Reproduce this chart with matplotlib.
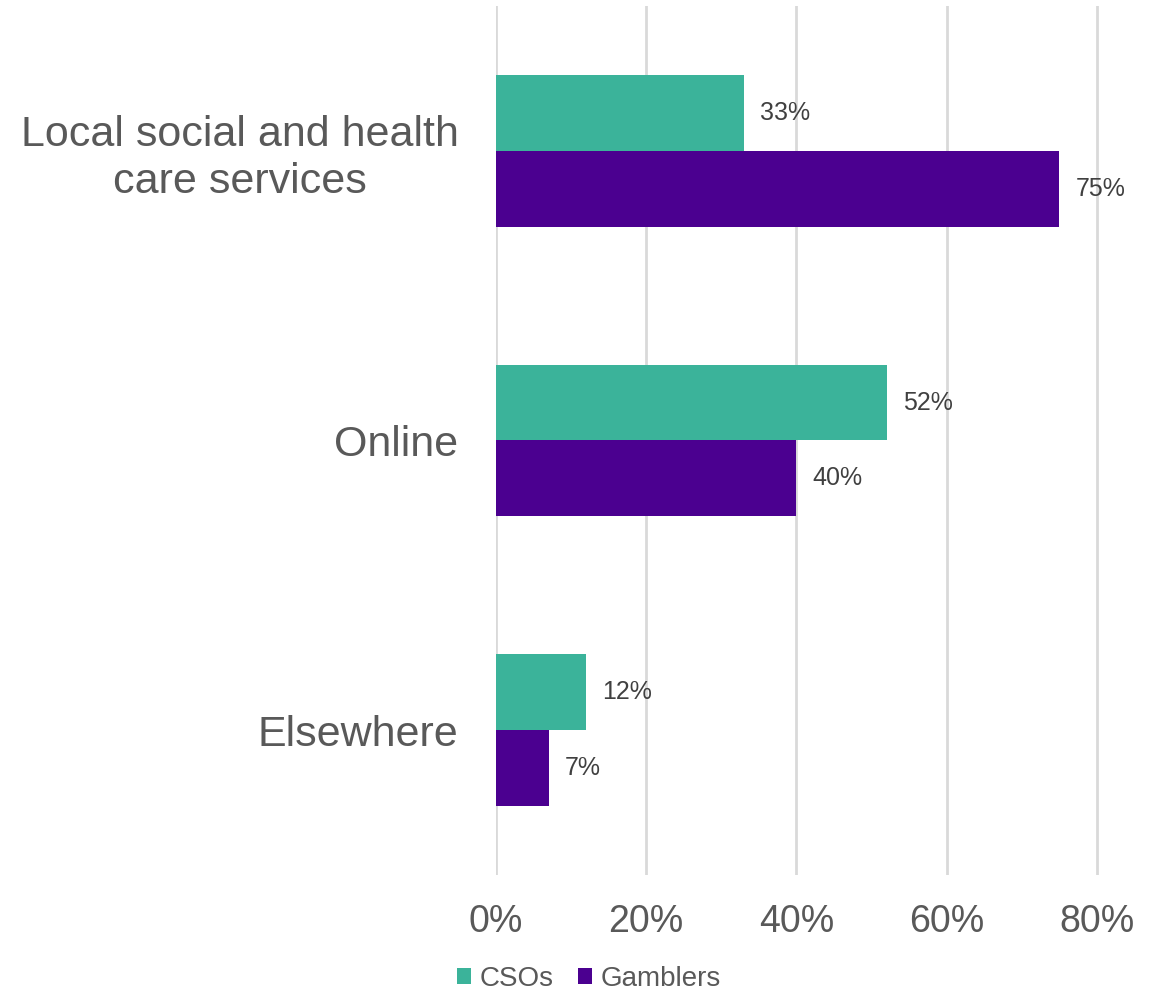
import matplotlib
matplotlib.use("Agg")
import numpy as np
from matplotlib import pyplot as plt
from matplotlib.patches import Patch

plt.rcParams['font.family'] = ['Liberation Sans', 'DejaVu Sans']

categories = ["Local social and health\ncare services", "Online", "Elsewhere"]
csos = [33, 52, 12]
gamblers = [75, 40, 7]
csos_labels = ["33%", "52%", "12%"]
gamblers_labels = ["75%", "40%", "7%"]

teal = "#3BB39A"
purple = "#4B0090"
grey_text = "#595959"
grid_col = "#D9D9D9"

fig = plt.figure(figsize=(11.58, 9.93), dpi=100)
right = (1097 + 3.76) / 1158
ax = fig.add_axes([0.4283, 0.1188, right - 0.4283, 0.994 - 0.1188])

y = np.arange(len(categories))
h = 0.262
ax.barh(y - h / 2, csos, h, color=teal, zorder=3)
ax.barh(y + h / 2, gamblers, h, color=purple, zorder=3)

# value labels right of each bar
for i in range(len(categories)):
    ax.annotate(csos_labels[i], xy=(csos[i], y[i] - h / 2), xytext=(16, 0),
                textcoords="offset pixels", va="center", ha="left",
                fontsize=18, color="#404040")
    ax.annotate(gamblers_labels[i], xy=(gamblers[i], y[i] + h / 2), xytext=(16, 0),
                textcoords="offset pixels", va="center", ha="left",
                fontsize=18, color="#404040")

ax.set_xlim(0, 80.5)
ax.set_ylim(2.5, -0.5)
ax.set_xticks([0, 20, 40, 60, 80])
ax.set_xticklabels(["0%", "20%", "40%", "60%", "80%"])
ax.set_yticks(y)
ax.set_yticklabels(categories, linespacing=1.2)
ax.tick_params(axis="both", length=0, colors=grey_text)
ax.tick_params(axis="x", labelsize=27, pad=21)
ax.tick_params(axis="y", labelsize=31, pad=27)
for lab in ax.get_yticklabels():
    lab.set_horizontalalignment("right")
    lab.set_multialignment("center")

ax.grid(axis="x", color=grid_col, linewidth=2, zorder=0)
for s in ax.spines.values():
    s.set_visible(False)

handles = [Patch(facecolor=teal, label="CSOs"), Patch(facecolor=purple, label="Gamblers")]
fig.legend(handles=handles, loc="center", bbox_to_anchor=(589 / 1158, 1 - 979 / 993),
           ncol=2, frameon=False, fontsize=20, labelcolor=grey_text,
           handlelength=0.5, handleheight=0.5, handletextpad=0.3, columnspacing=0.9)

fig.savefig("out.png", dpi=100)
